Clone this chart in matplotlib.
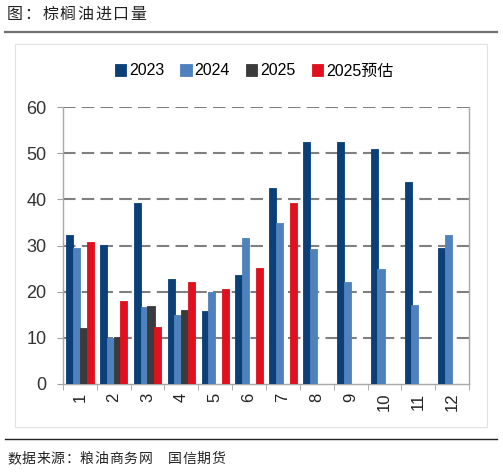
import matplotlib.pyplot as plt
import numpy as np

plt.rcParams['font.family'] = ['Liberation Sans', 'Noto Sans CJK SC', 'DejaVu Sans']

months = ['1', '2', '3', '4', '5', '6', '7', '8', '9', '10', '11', '12']
imp_2023 = [32.3, 30.2, 39.3, 22.8, 15.9, 23.7, 42.4, 52.4, 52.5, 51.0, 43.7, 29.4]
imp_2024 = [29.4, 9.9, 16.7, 15.0, 19.9, 31.6, 34.8, 29.2, 22.0, 25.0, 17.1, 32.2]
imp_2025 = [12.1, 10.1, 17.0, 16.1, None, None, None, None, None, None, None, None]
est_2025 = [30.7, 18.0, 12.4, 22.2, 20.5, 25.1, 39.3, None, None, None, None, None]
series_names = ['2023', '2024', '2025', '2025预估']
colors = ['#0b3f78', '#4f81bd', '#3b3b3b', '#e0101e']


def main():
    fig = plt.figure(figsize=(5.03, 4.72), dpi=100)
    ax = fig.add_axes([63 / 503, 1 - 384 / 472, 406 / 503, 277 / 472])

    x = np.arange(len(months))
    width = 0.21
    offsets = [-0.3, -0.1, 0.1, 0.3]
    all_series = [imp_2023, imp_2024, imp_2025, est_2025]
    for vals, off, col, name in zip(all_series, offsets, colors, series_names):
        idx = [i for i, a in enumerate(vals) if a is not None]
        v = [vals[i] for i in idx]
        ax.bar(x[idx] + off, v, width, color=col, edgecolor=col, linewidth=0.6,
               joinstyle='round', label=name, zorder=3)

    ax.set_xlim(-0.5, len(months) - 0.5)
    ax.set_ylim(0, 60)
    ax.set_yticks(np.arange(0, 61, 10))
    ax.yaxis.grid(True, color='#808080', linestyle=(0, (6, 3)), linewidth=1.5, zorder=1)
    ax.set_axisbelow(True)
    # no dashed line on top of the x axis
    ax.get_ygridlines()[0].set_visible(False)

    ax.set_xticks(x)
    ax.set_xticklabels(months, rotation=90, fontsize=12, color='#222222')
    ax.set_xticks(np.arange(-0.5, len(months)), minor=True)
    ax.tick_params(axis='x', which='major', length=0, pad=6)
    ax.tick_params(axis='x', which='minor', length=4, color='#a0a0a0')
    ax.tick_params(axis='y', length=4, color='#a0a0a0', labelsize=13,
                   labelcolor='#333333', pad=8)

    for s in ['left', 'bottom', 'right']:
        ax.spines[s].set_color('#a8a8a8')
        ax.spines[s].set_linewidth(1)
    ax.spines['top'].set_visible(False)

    ax.legend(loc='center', bbox_to_anchor=(254 / 503, 1 - 71 / 472),
              bbox_transform=fig.transFigure, ncol=4, frameon=False,
              fontsize=11.5, handlelength=0.7, handleheight=0.8,
              handletextpad=0.2, columnspacing=1.0)

    # chart frame
    fig.add_artist(plt.Rectangle((15 / 503, 1 - 427 / 472), 472 / 503, 383 / 472,
                                 transform=fig.transFigure, fill=False,
                                 edgecolor='#e2e2e2', linewidth=0.8))
    # header and footer rules
    fig.add_artist(plt.Line2D([5 / 503, 497 / 503], [1 - 32 / 472, 1 - 32 / 472],
                              transform=fig.transFigure, color='#707070', linewidth=1.6))
    fig.add_artist(plt.Line2D([5 / 503, 497 / 503], [1 - 439 / 472, 1 - 439 / 472],
                              transform=fig.transFigure, color='#222222', linewidth=1))

    title = '图：棕榈油进口量'
    for i, ch in enumerate(title):
        fig.text((7 + i * 17.6) / 503, 1 - 14 / 472, ch, fontsize=11.5,
                 family=['Noto Sans CJK SC'], va='center', ha='left', color='#222222')
    source = '数据来源：粮油商务网 国信期货'
    for i, ch in enumerate(source):
        fig.text((7 + i * 14.6) / 503, 1 - 459 / 472, ch, fontsize=10,
                 family=['Noto Sans CJK SC'], va='center', ha='left', color='#222222')

    fig.savefig('out.png', dpi=100)


if __name__ == '__main__':
    main()
